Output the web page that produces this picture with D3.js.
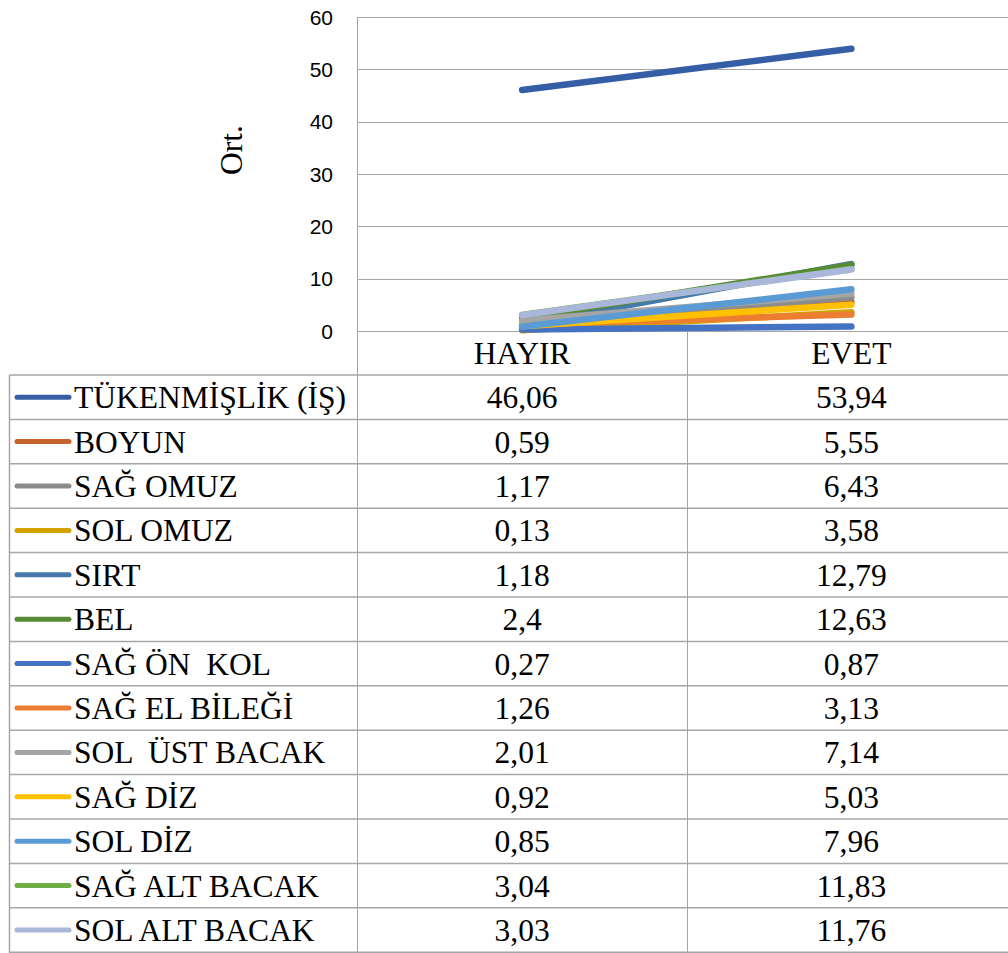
<!DOCTYPE html>
<html>
<head>
<meta charset="utf-8">
<script src="https://cdn.jsdelivr.net/npm/d3@7"></script>
<style>
  body { margin: 0; background: #fff; }
  svg { display: block; }
  .tick-label { font-family: "Liberation Sans", Arial, sans-serif; font-size: 21px; fill: #000; }
  .serif { font-family: "Liberation Serif", "Times New Roman", serif; font-size: 31.5px; fill: #000; }
</style>
</head>
<body>
<div id="chart"></div>
<script>
const categories = ["HAYIR", "EVET"];
const seriesNames = [
  "TÜKENMİŞLİK (İŞ)", "BOYUN", "SAĞ OMUZ", "SOL OMUZ", "SIRT", "BEL",
  "SAĞ ÖN  KOL", "SAĞ EL BİLEĞİ", "SOL  ÜST BACAK", "SAĞ DİZ", "SOL DİZ",
  "SAĞ ALT BACAK", "SOL ALT BACAK"
];
const hayirValues = [46.06, 0.59, 1.17, 0.13, 1.18, 2.4, 0.27, 1.26, 2.01, 0.92, 0.85, 3.04, 3.03];
const evetValues = [53.94, 5.55, 6.43, 3.58, 12.79, 12.63, 0.87, 3.13, 7.14, 5.03, 7.96, 11.83, 11.76];
const seriesColors = [
  "#365ea6", "#c5632b", "#8c8c8c", "#d4a200", "#467aab", "#578a35",
  "#4472c4", "#ed7d31", "#a5a5a5", "#ffc000", "#5b9bd5", "#70ad47", "#a9b7da"
];
const yTicks = [0, 10, 20, 30, 40, 50, 60];

const width = 1008, height = 953;
const plot = { left: 357.5, right: 1016, top: 17, bottom: 331 };
const table = { left: 9.5, top: 375, rowH: 44.4 };
const gridColor = "#a6a6a6";

const fmt = v => String(v).replace(".", ",");

const series = seriesNames.map((name, i) => ({
  name,
  color: seriesColors[i],
  values: [hayirValues[i], evetValues[i]]
}));

const svg = d3.select("#chart").append("svg")
  .attr("width", width)
  .attr("height", height);

const x = d3.scaleBand().domain(categories).range([plot.left, plot.right]);
const y = d3.scaleLinear().domain([0, 60]).range([plot.bottom, plot.top]);

// gridlines
svg.append("g")
  .selectAll("line")
  .data(yTicks)
  .join("line")
  .attr("x1", plot.left).attr("x2", width)
  .attr("y1", d => Math.round(y(d)) + 0.5).attr("y2", d => Math.round(y(d)) + 0.5)
  .attr("stroke", gridColor).attr("stroke-width", 1);

// y tick labels
svg.append("g")
  .selectAll("text")
  .data(yTicks)
  .join("text")
  .attr("class", "tick-label")
  .attr("x", 333)
  .attr("y", d => y(d))
  .attr("dy", "0.36em")
  .attr("text-anchor", "end")
  .text(d => d);

// y axis title
svg.append("text")
  .attr("class", "serif")
  .attr("transform", "translate(242,150) rotate(-90)")
  .attr("text-anchor", "middle")
  .text("Ort.");

// vertical axis line (runs down through the table)
svg.append("line")
  .attr("x1", plot.left).attr("x2", plot.left)
  .attr("y1", plot.top).attr("y2", height)
  .attr("stroke", gridColor);

// category divider
const divX = Math.round(x("EVET")) + 0.5;
svg.append("line")
  .attr("x1", divX).attr("x2", divX)
  .attr("y1", plot.bottom).attr("y2", height)
  .attr("stroke", gridColor);

// category labels
svg.append("g")
  .selectAll("text")
  .data(categories)
  .join("text")
  .attr("class", "serif")
  .attr("x", d => x(d) + x.bandwidth() / 2)
  .attr("y", 353)
  .attr("dy", "0.35em")
  .attr("text-anchor", "middle")
  .text(d => d);

// table
const rowY = i => table.top + i * table.rowH;
svg.append("g")
  .selectAll("line")
  .data(d3.range(series.length + 1))
  .join("line")
  .attr("x1", table.left).attr("x2", width)
  .attr("y1", d => rowY(d)).attr("y2", d => rowY(d))
  .attr("stroke", gridColor).attr("stroke-width", 1.5);

svg.append("line")
  .attr("x1", table.left).attr("x2", table.left)
  .attr("y1", table.top).attr("y2", height)
  .attr("stroke", gridColor).attr("stroke-width", 1.5);

const rows = svg.append("g")
  .selectAll("g")
  .data(series)
  .join("g")
  .attr("transform", (d, i) => `translate(0,${rowY(i) + table.rowH / 2})`);

rows.append("line")
  .attr("x1", 17).attr("x2", 69)
  .attr("stroke", d => d.color)
  .attr("stroke-width", 5)
  .attr("stroke-linecap", "round");

rows.append("text")
  .attr("class", "serif")
  .attr("x", 74)
  .attr("dy", "0.35em")
  .attr("xml:space", "preserve")
  .style("white-space", "pre")
  .text(d => d.name);

categories.forEach((c, ci) => {
  rows.append("text")
    .attr("class", "serif")
    .attr("x", x(c) + x.bandwidth() / 2)
    .attr("dy", "0.35em")
    .attr("text-anchor", "middle")
    .text(d => fmt(d.values[ci]));
});

// series lines
const line = d3.line()
  .x((d, i) => x(categories[i]) + x.bandwidth() / 2)
  .y(d => y(d));

svg.append("g")
  .selectAll("path")
  .data(series)
  .join("path")
  .attr("d", d => line(d.values))
  .attr("fill", "none")
  .attr("stroke", d => d.color)
  .attr("stroke-width", 6.5)
  .attr("stroke-linecap", "round");
</script>
</body>
</html>
